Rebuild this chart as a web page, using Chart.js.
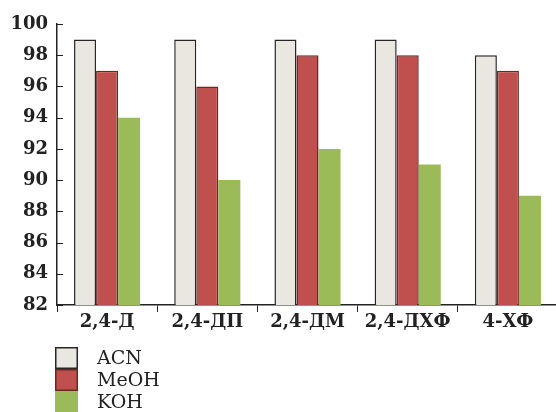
<!DOCTYPE html>
<html>
<head>
<meta charset="utf-8">
<script src="https://cdn.jsdelivr.net/npm/chart.js@4/dist/chart.umd.min.js"></script>
<style>
  html, body { margin: 0; padding: 0; background: #fff; overflow: hidden; }
  #wrap { position: relative; width: 562px; height: 412px; }
</style>
</head>
<body>
<div id="wrap"><canvas id="chart" width="562" height="412"></canvas></div>
<script>
// Categories and series values
const categories = ['2,4-Д', '2,4-ДП', '2,4-ДМ', '2,4-ДХФ', '4-ХФ'];
const acnValues  = [99, 99, 99, 99, 98];
const meohValues = [97, 96, 98, 98, 97];
const kohValues  = [94, 90, 92, 91, 89];
const yTicks = [82, 84, 86, 88, 90, 92, 94, 96, 98, 100];

const serif = '"DejaVu Serif", "Liberation Serif", serif';

// Short tick marks pointing into the plot on the value axis
const innerTicks = {
    id: 'innerTicks',
    afterDraw(chart) {
        const { ctx, scales: { y }, chartArea } = chart;
        ctx.save();
        ctx.strokeStyle = '#222';
        ctx.lineWidth = 1;
        yTicks.forEach(v => {
            const py = Math.round(y.getPixelForValue(v)) + 0.5;
            ctx.beginPath();
            ctx.moveTo(chartArea.left, py);
            ctx.lineTo(chartArea.left + 6, py);
            ctx.stroke();
        });
        ctx.restore();
    }
};

// Stacked legend in the bottom left corner
const stackLegend = {
    id: 'stackLegend',
    afterDraw(chart) {
        const { ctx } = chart;
        const x = 55, top = 347, size = 22, w = 23;
        ctx.save();
        ctx.font = '19px ' + serif;
        ctx.textBaseline = 'middle';
        chart.data.datasets.forEach((ds, i) => {
            const y = top + i * size;
            ctx.fillStyle = ds.backgroundColor;
            ctx.fillRect(x, y, w, size);
            if (ds.borderWidth) {
                ctx.strokeStyle = ds.borderColor;
                ctx.lineWidth = 1.5;
                ctx.strokeRect(x + 0.75, y + 0.75, w - 1.5, size - 1.5);
            }
            ctx.fillStyle = '#222';
            ctx.fillText(ds.label, 97, y + size / 2 + 1);
        });
        ctx.restore();
    }
};

new Chart(document.getElementById('chart'), {
    type: 'bar',
    data: {
        labels: categories,
        datasets: [
            { label: 'ACN', data: acnValues, backgroundColor: '#e9e7df', borderColor: '#262626', borderWidth: 1.5 },
            { label: 'MeOH', data: meohValues, backgroundColor: '#c0504d', borderColor: '#6a2826', borderWidth: 1.5 },
            { label: 'KOH', data: kohValues, backgroundColor: '#9bbb59', borderWidth: 0 }
        ]
    },
    options: {
        responsive: false,
        animation: false,
        layout: { padding: { top: 24, left: 0, right: 4 } },
        datasets: { bar: { categoryPercentage: 0.66, barPercentage: 1.0 } },
        plugins: { legend: { display: false }, tooltip: { enabled: false } },
        scales: {
            x: {
                grid: { offset: true, drawOnChartArea: false, tickLength: 7, color: '#222', lineWidth: 1 },
                border: { color: '#222', width: 1.5 },
                ticks: { color: '#222', padding: 0, font: { family: serif, size: 18, weight: 'bold' } },
                afterFit(scale) { scale.height = 107; }
            },
            y: {
                min: 82,
                max: 100,
                afterBuildTicks(scale) { scale.ticks = yTicks.map(v => ({ value: v })); },
                grid: { display: true, drawOnChartArea: false, drawTicks: false },
                border: { color: '#222', width: 1.5 },
                ticks: { color: '#222', padding: 9, font: { family: serif, size: 18, weight: 'bold' } },
                afterFit(scale) { scale.width = 57; }
            }
        }
    },
    plugins: [innerTicks, stackLegend]
});
</script>
</body>
</html>
